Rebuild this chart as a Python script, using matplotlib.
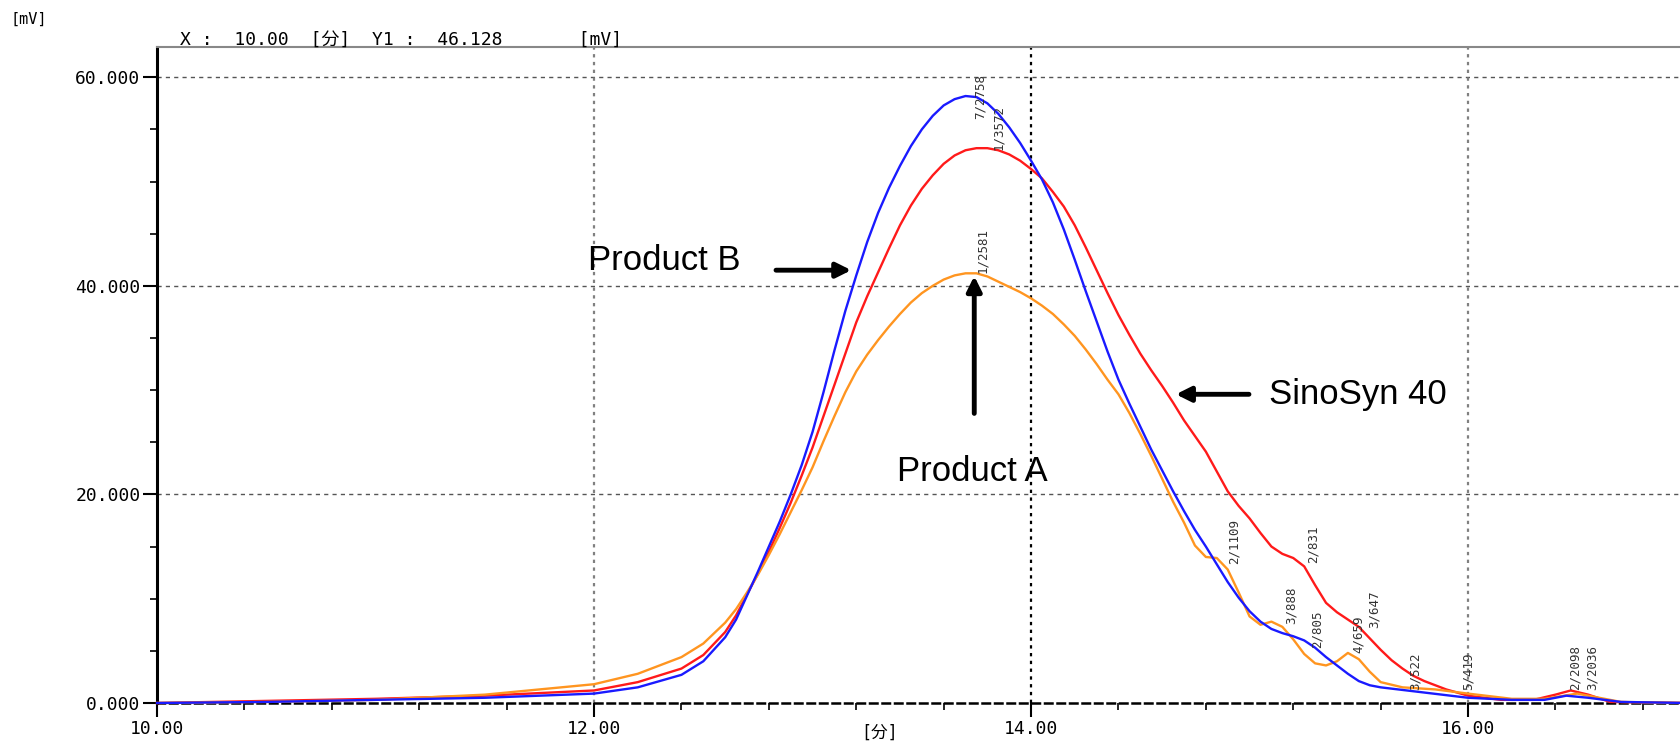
import numpy as np
import matplotlib
matplotlib.use('Agg')
import matplotlib.pyplot as plt
from matplotlib.ticker import MultipleLocator, FormatStrFormatter

# retention time [min] / detector signal [mV]
blue_t = [10.0, 10.5, 11.0, 11.5, 12.0, 12.2, 12.4, 12.5,
          12.6, 12.65, 12.7, 12.75, 12.8, 12.85, 12.9, 12.95, 13.0, 13.05, 13.1, 13.15, 13.2, 13.25,
          13.3, 13.35, 13.4, 13.45, 13.5, 13.55, 13.6, 13.65, 13.7, 13.75, 13.8, 13.85, 13.9, 13.95,
          14.0, 14.05, 14.1, 14.15, 14.2, 14.25, 14.3, 14.35, 14.4, 14.45, 14.5, 14.55, 14.6, 14.65,
          14.7, 14.75, 14.8, 14.85, 14.9, 14.95, 15.0, 15.05, 15.1, 15.15, 15.2, 15.25, 15.3, 15.35,
          15.4, 15.45, 15.5, 15.55, 15.6, 15.8, 16.0, 16.2, 16.35, 16.45, 16.55, 16.7, 17.0]
blue_mv = [0.0, 0.1, 0.3, 0.5, 0.9, 1.5, 2.7, 4.0,
           6.3, 8.0, 10.3, 12.6, 15.0, 17.4, 20.0, 22.8, 26.0, 29.8, 33.8, 37.6, 41.0, 44.2,
           47.0, 49.4, 51.5, 53.4, 55.0, 56.3, 57.3, 57.9, 58.2, 58.1, 57.5, 56.5, 55.2, 53.7,
           52.0, 50.2, 48.0, 45.4, 42.5, 39.5, 36.6, 33.7, 31.0, 28.7, 26.5, 24.3, 22.3, 20.3,
           18.4, 16.6, 15.0, 13.3, 11.6, 10.1, 8.8, 7.8, 7.1, 6.7, 6.4, 6.0, 5.3, 4.4,
           3.6, 2.8, 2.1, 1.7, 1.5, 1.0, 0.5, 0.3, 0.3, 0.7, 0.5, 0.1, 0.0]

red_t = [10.0, 10.5, 11.0, 11.5, 12.0, 12.2, 12.4, 12.5,
         12.6, 12.65, 12.7, 12.75, 12.8, 12.85, 12.9, 12.95, 13.0, 13.05, 13.1, 13.15, 13.2, 13.25,
         13.3, 13.35, 13.4, 13.45, 13.5, 13.55, 13.6, 13.65, 13.7, 13.75, 13.8, 13.85, 13.9, 13.95,
         14.0, 14.05, 14.1, 14.15, 14.2, 14.25, 14.3, 14.35, 14.4, 14.45, 14.5, 14.55, 14.6, 14.65,
         14.7, 14.75, 14.8, 14.85, 14.9, 14.95, 15.0, 15.05, 15.1, 15.15, 15.2, 15.25, 15.3, 15.35,
         15.4, 15.45, 15.5, 15.55, 15.6, 15.65, 15.7, 15.75, 15.8, 15.9, 16.0, 16.15, 16.3, 16.4,
         16.47, 16.55, 16.65, 17.0]
red_mv = [0.0, 0.2, 0.4, 0.7, 1.2, 2.0, 3.3, 4.6,
          6.8, 8.4, 10.4, 12.4, 14.5, 16.8, 19.2, 21.8, 24.5, 27.5, 30.5, 33.5, 36.5, 39.0,
          41.3, 43.6, 45.8, 47.7, 49.3, 50.6, 51.7, 52.5, 53.0, 53.2, 53.2, 53.0, 52.6, 52.0,
          51.2, 50.3, 49.0, 47.6, 45.8, 43.7, 41.5, 39.3, 37.2, 35.3, 33.5, 31.9, 30.4, 28.8,
          27.1, 25.6, 24.1, 22.2, 20.3, 18.9, 17.7, 16.3, 15.0, 14.3, 13.9, 13.1, 11.3, 9.6,
          8.7, 8.0, 7.3, 6.2, 5.1, 4.1, 3.3, 2.6, 2.1, 1.3, 0.7, 0.3, 0.3, 0.8,
          1.2, 0.8, 0.1, 0.0]

orange_t = [10.0, 10.5, 11.0, 11.5, 12.0, 12.2, 12.4, 12.5,
            12.6, 12.65, 12.7, 12.75, 12.8, 12.85, 12.9, 12.95, 13.0, 13.05, 13.1, 13.15, 13.2, 13.25,
            13.3, 13.35, 13.4, 13.45, 13.5, 13.55, 13.6, 13.65, 13.7, 13.75, 13.8, 13.85, 13.9, 13.95,
            14.0, 14.05, 14.1, 14.15, 14.2, 14.25, 14.3, 14.35, 14.4, 14.45, 14.5, 14.55, 14.6, 14.65,
            14.7, 14.75, 14.8, 14.85, 14.9, 14.95, 15.0, 15.05, 15.1, 15.15, 15.2, 15.25, 15.3, 15.35,
            15.4, 15.45, 15.5, 15.55, 15.6, 15.7, 15.85, 16.0, 16.2, 16.35, 16.5, 16.6, 16.7, 17.0]
orange_mv = [0.0, 0.1, 0.3, 0.8, 1.8, 2.8, 4.4, 5.7,
             7.7, 9.0, 10.6, 12.3, 14.2, 16.2, 18.3, 20.4, 22.6, 25.1, 27.5, 29.8, 31.8, 33.4,
             34.8, 36.1, 37.3, 38.4, 39.3, 40.0, 40.6, 41.0, 41.2, 41.2, 40.9, 40.4, 39.9, 39.4,
             38.8, 38.1, 37.3, 36.3, 35.2, 33.9, 32.5, 31.0, 29.6, 27.8, 25.8, 23.7, 21.5, 19.3,
             17.3, 15.1, 14.0, 13.9, 12.8, 10.6, 8.3, 7.5, 7.8, 7.3, 6.1, 4.7, 3.8, 3.6,
             4.0, 4.8, 4.2, 3.0, 2.0, 1.5, 1.3, 0.9, 0.4, 0.4, 0.9, 0.5, 0.1, 0.0]

# peak labels (x, bottom y, text)
peak_labels = [(13.765, 56.0, '7/2758'), (13.85, 53.0, '1/3572'), (13.78, 41.2, '1/2581'),
               (14.93, 13.3, '2/1109'), (15.29, 13.4, '2/831'), (15.19, 7.6, '3/888'),
               (15.31, 5.3, '2/805'), (15.50, 4.8, '4/659'), (15.57, 7.2, '3/647'),
               (15.76, 1.2, '3/522'), (16.0, 1.2, '5/419'), (16.49, 1.2, '2/2098'),
               (16.57, 1.2, '3/2036')]

x_major = [10, 12, 14, 16]
y_major = [0, 20, 40, 60]

mono = ['DejaVu Sans Mono', 'Noto Sans CJK JP']

fig = plt.figure(figsize=(16.8, 7.45), dpi=100)
ax = fig.add_axes([0.0935, 0.0564, 0.9065, 0.8805])

ax.plot(red_t, red_mv, color='#ff1a1a', lw=1.7, clip_on=False, zorder=3)
ax.plot(blue_t, blue_mv, color='#1a1aff', lw=1.7, clip_on=False, zorder=4)
ax.plot(orange_t, orange_mv, color='#ff9520', lw=1.7, clip_on=False, zorder=3)

ax.set_xlim(10, 16.97)
ax.set_ylim(0, 62.9)

# grid
for y in y_major[1:]:
    ax.axhline(y, color='#555555', lw=1.0, ls=(0, (3, 3)), zorder=1)
for x in x_major[1:]:
    if x == 14:
        ax.axvline(x, color='black', lw=1.6, ls=(0, (1.5, 2)), zorder=1)
    else:
        ax.axvline(x, color='#808080', lw=1.6, ls=(0, (1.5, 2)), zorder=1)

ax.spines['right'].set_visible(False)
ax.spines['top'].set_color('#888888')
ax.spines['top'].set_linewidth(1.5)
ax.spines['left'].set_linestyle((0, (2, 1)))
ax.spines['left'].set_linewidth(2.2)
ax.spines['bottom'].set_linestyle((0, (3, 2)))
ax.spines['bottom'].set_linewidth(1.8)

ax.set_xticks(x_major)
ax.set_yticks(y_major)
ax.xaxis.set_minor_locator(MultipleLocator(0.4))
ax.yaxis.set_minor_locator(MultipleLocator(5))
ax.xaxis.set_major_formatter(FormatStrFormatter('%.2f'))
ax.yaxis.set_major_formatter(FormatStrFormatter('%.3f'))
ax.tick_params(which='major', direction='out', length=10, width=1.5, labelsize=13, pad=2)
ax.tick_params(which='minor', direction='out', length=5, width=1.2)
for lab in ax.get_xticklabels() + ax.get_yticklabels():
    lab.set_family(mono)

for x, y, s in peak_labels:
    ax.text(x, y, s, rotation=90, ha='center', va='bottom', fontsize=9,
            family=mono, color='#333333', zorder=5)

arrow = dict(arrowstyle='-|>', lw=3.5, color='black', mutation_scale=22)
ax.annotate('', xy=(13.19, 41.5), xytext=(12.82, 41.5), arrowprops=arrow, zorder=6)
ax.annotate('', xy=(14.65, 29.6), xytext=(15.01, 29.6), arrowprops=arrow, zorder=6)
ax.annotate('', xy=(13.74, 41.2), xytext=(13.74, 27.5), arrowprops=arrow, zorder=6)
ax.text(11.97, 42.4, 'Product B', fontsize=25, family='Liberation Sans', ha='left', va='center')
ax.text(15.09, 29.6, 'SinoSyn 40', fontsize=25, family='Liberation Sans', ha='left', va='center')
ax.text(13.73, 22.2, 'Product A', fontsize=25, family='Liberation Sans', ha='center', va='center')

fig.text(11 / 1680, 1 - 19 / 745, '[mV]', fontsize=11, family=mono, va='center', ha='left')
fig.text(180 / 1680, 1 - 40 / 745, 'X :  10.00  [分]  Y1 :  46.128       [mV]',
         fontsize=13, family=mono, va='center', ha='left')
fig.text(880 / 1680, 1 - 733 / 745, '[分]', fontsize=12, family=mono, va='center', ha='center')

fig.savefig('out.png', dpi=100)
